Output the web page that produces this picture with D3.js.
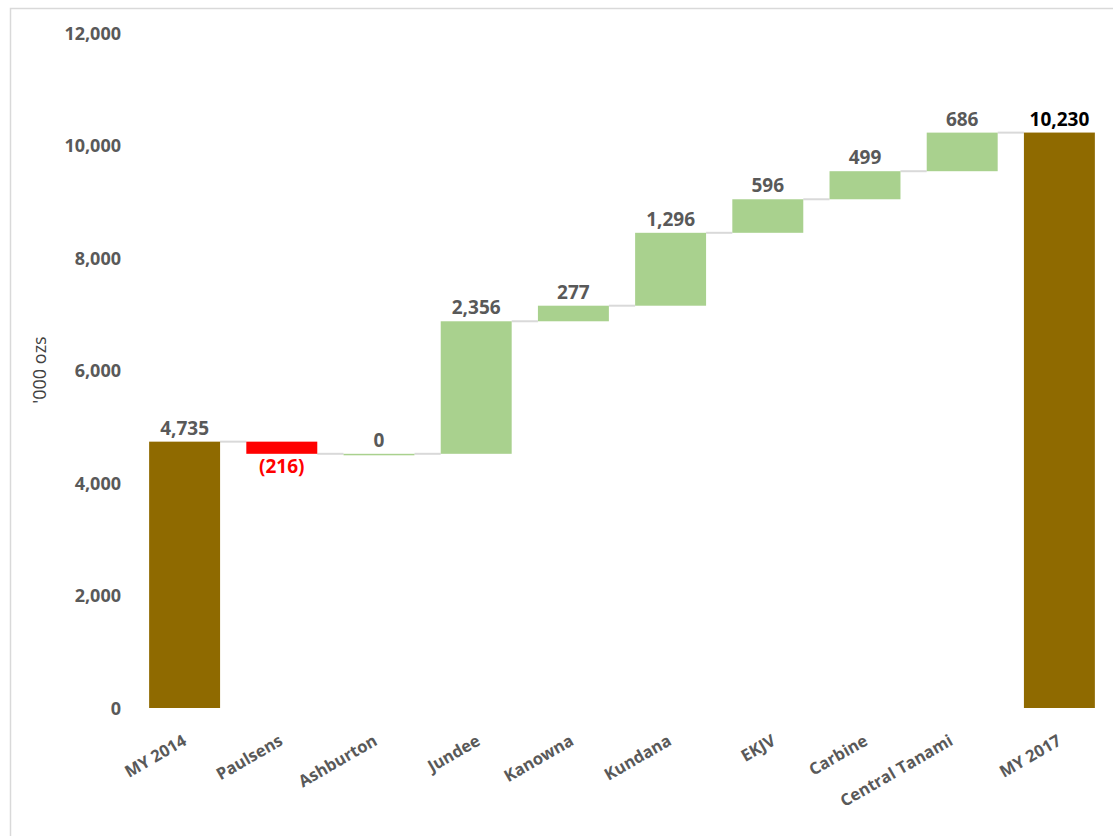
<!DOCTYPE html>
<html>
<head>
<meta charset="utf-8">
<script src="https://cdn.jsdelivr.net/npm/d3@7"></script>
<style>
  html, body { margin: 0; padding: 0; background: #ffffff; }
  svg { display: block; }
  text { font-family: "Open Sans", Lato, "Liberation Sans", sans-serif; }
</style>
</head>
<body>
<svg id="chart" width="1113" height="836"></svg>
<script>
// ---- data ----
const categories = ["MY 2014", "Paulsens", "Ashburton", "Jundee", "Kanowna", "Kundana", "EKJV", "Carbine", "Central Tanami", "MY 2017"];
const values = [4735, -216, 0, 2356, 277, 1296, 596, 499, 686, 10230];
const kinds = ["total", "delta", "delta", "delta", "delta", "delta", "delta", "delta", "delta", "total"];
const labels = ["4,735", "(216)", "0", "2,356", "277", "1,296", "596", "499", "686", "10,230"];
const yTicks = [0, 2000, 4000, 6000, 8000, 10000, 12000];
const yTitle = "'000 ozs";

// ---- build waterfall segments ----
let run = 0;
const segs = categories.map((c, i) => {
  let y0, y1;
  if (kinds[i] === "total") { y0 = 0; y1 = values[i]; run = values[i]; }
  else { y0 = run; y1 = run + values[i]; run = y1; }
  return { cat: c, v: values[i], kind: kinds[i], y0, y1, end: run, label: labels[i], i };
});

const svg = d3.select("#chart");

// frame border
svg.append("rect").attr("x", 10.5).attr("y", 8.5).attr("width", 1120).attr("height", 840)
  .attr("fill", "none").attr("stroke", "#d9d9d9").attr("stroke-width", 1.5);

const x = d3.scaleBand().domain(categories).range([136, 1108]).paddingInner(0.27).paddingOuter(0.135);
const y = d3.scaleLinear().domain([0, 12000]).range([708, 33]);

// y tick labels
const yAxis = d3.axisLeft(y).tickValues(yTicks).tickFormat(d3.format(",")).tickSize(0).tickPadding(0);
const gy = svg.append("g").attr("transform", "translate(121,0)").call(yAxis);
gy.select(".domain").remove();
gy.selectAll("text").attr("fill", "#595959").attr("font-size", 18).attr("font-weight", "bold")
  .attr("font-family", "'Open Sans', Lato, sans-serif").attr("dy", "0.35em");

// y title
svg.append("text").attr("transform", "translate(46,370) rotate(-90)")
  .attr("text-anchor", "middle").attr("fill", "#404040").attr("font-size", 18)
  .text(yTitle);

// connectors
segs.slice(0, -1).forEach((s, i) => {
  const nx = categories[i + 1];
  svg.append("line")
    .attr("x1", x(s.cat) + x.bandwidth()).attr("x2", x(nx))
    .attr("y1", y(s.end)).attr("y2", y(s.end))
    .attr("stroke", "#d9d9d9").attr("stroke-width", 2);
});

const color = s => s.kind === "total" ? "#8f6a00" : (s.v < 0 ? "#ff0000" : "#a9d18e");

// bars
svg.append("g").selectAll("rect").data(segs).join("rect")
  .attr("x", d => x(d.cat))
  .attr("width", x.bandwidth())
  .attr("y", d => y(Math.max(d.y0, d.y1)))
  .attr("height", d => Math.max(1.5, Math.abs(y(d.y0) - y(d.y1))))
  .attr("fill", color);

// value labels
svg.append("g").selectAll("text").data(segs).join("text")
  .attr("x", d => x(d.cat) + x.bandwidth() / 2)
  .attr("y", d => d.v < 0 ? y(Math.min(d.y0, d.y1)) + 19 : y(Math.max(d.y0, d.y1)) - 7)
  .attr("text-anchor", "middle")
  .attr("font-size", 19).attr("font-weight", "bold")
  .attr("fill", d => d.v < 0 ? "#ff0000" : (d.i === categories.length - 1 ? "#000000" : "#595959"))
  .text(d => d.label);

// x category labels
const xl = svg.append("g").selectAll("text").data(segs).join("text")
  .attr("text-anchor", "end")
  .attr("font-size", 16.5).attr("font-weight", "bold").attr("fill", "#595959")
  .text(d => d.cat);
xl.attr("transform", function(d) {
  const L = this.getComputedTextLength();
  const cx = x(d.cat) + x.bandwidth() / 2 + 16 - 0.19 * L;
  return `translate(${cx},744) rotate(-30)`;
});
</script>
</body>
</html>
